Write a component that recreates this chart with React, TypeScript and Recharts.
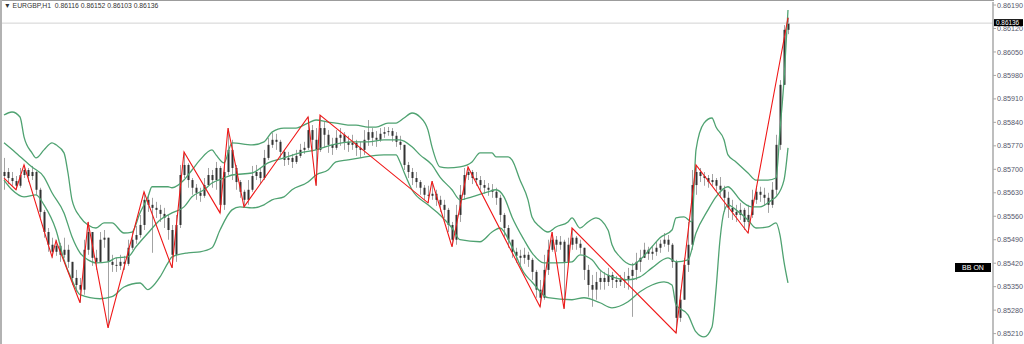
import { Bar, ComposedChart, Line, ReferenceLine, XAxis, YAxis } from "recharts";

// prices kept as points above 0.85000 (1 point = 0.00001)
const toPrice = (p: number) => 0.85 + p / 100000;

const symbol = "EURGBP,H1";
const firstOpen = 680;

const closes = [
	692, 674, 665, 651, 683, 698, 680, 692, 639, 573, 513, 475, 454, 472, 445, 460, 424, 376, 355, 341,
	460, 513, 436, 424, 490, 496, 424, 415, 412, 424, 418, 466, 490, 504, 534, 609, 594, 585, 579, 567,
	555, 519, 445, 534, 683, 713, 668, 645, 630, 621, 653, 683, 668, 704, 594, 692, 758, 704, 662, 633,
	609, 639, 680, 692, 674, 734, 773, 788, 782, 752, 728, 734, 722, 740, 758, 764, 817, 788, 758, 823,
	803, 773, 764, 794, 803, 782, 773, 779, 764, 758, 788, 811, 794, 788, 806, 811, 814, 800, 782, 773,
	713, 692, 674, 662, 645, 624, 621, 627, 609, 594, 579, 534, 490, 564, 624, 683, 692, 674, 668, 653,
	645, 639, 633, 615, 564, 525, 490, 454, 442, 436, 445, 430, 394, 341, 317, 400, 460, 490, 475, 484,
	424, 475, 496, 478, 466, 400, 355, 341, 364, 376, 364, 385, 370, 364, 370, 370, 382, 400, 424, 436,
	460, 448, 454, 466, 478, 490, 475, 424, 257, 311, 415, 475, 653, 692, 680, 674, 662, 668, 651, 639,
	615, 585, 573, 564, 579, 543, 564, 609, 633, 624, 615, 594, 639, 773, 952, 1116, 1136,
];

const highs = [
	734, 704, 692, 680, 704, 713, 704, 710, 695, 645, 579, 525, 496, 490, 481, 496, 475, 424, 400, 376,
	490, 543, 513, 460, 513, 519, 496, 445, 436, 445, 442, 490, 513, 531, 564, 633, 624, 615, 603, 594,
	585, 564, 534, 564, 713, 752, 718, 674, 656, 645, 674, 704, 698, 722, 710, 713, 823, 788, 713, 668,
	639, 668, 710, 713, 704, 758, 794, 809, 806, 788, 758, 752, 746, 758, 776, 782, 856, 832, 823, 862,
	841, 817, 794, 817, 823, 811, 800, 803, 788, 782, 817, 847, 823, 814, 823, 826, 826, 823, 811, 800,
	773, 722, 704, 692, 668, 653, 651, 665, 639, 621, 609, 585, 543, 594, 653, 704, 707, 698, 692, 680,
	668, 659, 656, 645, 624, 570, 534, 490, 466, 460, 466, 454, 436, 400, 370, 445, 490, 513, 501, 501,
	490, 496, 525, 501, 490, 466, 415, 385, 394, 400, 394, 406, 394, 382, 385, 394, 406, 421, 451, 460,
	481, 469, 472, 484, 490, 510, 504, 480, 430, 341, 436, 543, 698, 713, 704, 692, 683, 686, 674, 677,
	651, 633, 609, 594, 600, 585, 594, 639, 651, 648, 645, 630, 662, 803, 966, 1130, 1152,
];

const lows = [
	639, 656, 651, 639, 645, 674, 662, 668, 624, 555, 496, 454, 436, 442, 424, 436, 406, 355, 335, 302,
	326, 445, 412, 400, 424, 466, 227, 394, 394, 400, 400, 412, 460, 478, 496, 519, 573, 451, 555, 543,
	525, 490, 406, 424, 525, 674, 645, 624, 609, 603, 615, 653, 645, 639, 570, 579, 683, 668, 639, 615,
	588, 594, 633, 668, 656, 668, 728, 764, 758, 734, 710, 713, 704, 716, 734, 746, 758, 752, 651, 752,
	764, 749, 743, 758, 770, 758, 752, 758, 740, 734, 743, 770, 770, 767, 782, 794, 800, 782, 767, 758,
	698, 674, 653, 645, 624, 609, 600, 609, 591, 573, 555, 513, 469, 475, 543, 609, 668, 656, 651, 639,
	627, 621, 615, 594, 543, 499, 466, 436, 421, 415, 418, 409, 370, 317, 290, 311, 385, 454, 454, 460,
	284, 424, 460, 460, 448, 370, 320, 290, 311, 341, 341, 352, 346, 346, 352, 346, 341, 260, 370, 394,
	436, 430, 430, 442, 451, 469, 454, 406, 212, 245, 311, 394, 460, 624, 662, 651, 645, 651, 633, 615,
	573, 555, 549, 543, 549, 519, 510, 555, 597, 603, 591, 570, 585, 624, 758, 952, 1103,
];

// Bollinger bands: [bar index, points]
const bbUpper: [number, number][] = [
	[0, 862], [2, 871], [4, 856], [5, 797], [7, 749], [8, 734], [10, 758], [12, 779], [13, 773], [15, 749],
	[16, 689], [17, 609], [19, 558], [21, 534], [23, 525], [25, 540], [27, 540], [30, 510], [32, 513], [34, 570],
	[36, 618], [37, 648], [41, 648], [42, 645], [45, 668], [47, 698], [49, 728], [52, 758], [53, 743], [55, 719],
	[57, 779], [62, 773], [65, 782], [67, 811], [70, 823], [73, 823], [76, 838], [78, 847], [81, 841], [83, 838],
	[86, 832], [88, 832], [91, 826], [93, 826], [96, 838], [98, 838], [100, 853], [102, 868], [104, 856], [106, 817],
	[107, 767], [109, 707], [111, 704], [114, 707], [117, 722], [119, 749], [122, 749], [123, 737], [126, 737], [127, 728],
	[129, 668], [131, 609], [132, 558], [134, 528], [136, 513], [138, 528], [141, 543], [142, 555], [144, 525], [146, 543],
	[148, 555], [151, 519], [152, 475], [154, 439], [157, 415], [159, 430], [162, 469], [164, 496], [167, 519], [168, 555],
	[170, 558], [172, 543], [173, 758], [175, 838], [177, 853], [178, 826], [180, 788], [181, 743], [183, 722], [186, 689],
	[188, 668], [191, 668], [193, 674], [194, 817], [195, 966], [196, 1175],
];

const bbMiddle: [number, number][] = [
	[0, 779], [3, 749], [7, 707], [10, 677], [12, 630], [15, 570], [17, 499], [19, 451], [21, 430], [23, 421],
	[26, 424], [28, 436], [31, 439], [33, 469], [36, 510], [39, 549], [42, 570], [45, 588], [47, 618], [50, 639],
	[52, 659], [55, 674], [57, 683], [62, 689], [66, 719], [70, 734], [74, 749], [78, 758], [82, 773], [87, 782],
	[91, 782], [95, 788], [99, 788], [102, 767], [104, 743], [107, 713], [109, 677], [112, 639], [114, 609], [117, 618],
	[121, 633], [123, 639], [125, 618], [127, 558], [130, 490], [132, 451], [135, 421], [138, 421], [142, 424], [144, 445],
	[147, 430], [149, 400], [152, 379], [156, 370], [159, 379], [162, 406], [166, 436], [168, 424], [171, 430], [173, 510],
	[176, 579], [178, 618], [181, 648], [182, 639], [184, 609], [187, 588], [189, 588], [192, 609], [193, 618], [195, 668],
	[196, 764],
];

const bbLower: [number, number][] = [
	[0, 668], [2, 639], [5, 618], [8, 624], [10, 594], [13, 519], [15, 430], [17, 370], [19, 326], [24, 314],
	[27, 320], [30, 349], [34, 361], [36, 341], [37, 349], [39, 379], [41, 421], [42, 439], [46, 451], [49, 454],
	[52, 466], [54, 519], [57, 579], [59, 588], [62, 585], [65, 594], [67, 609], [70, 618], [72, 639], [76, 662],
	[78, 683], [81, 698], [83, 722], [86, 728], [89, 734], [92, 740], [95, 743], [98, 743], [99, 722], [100, 692],
	[102, 639], [106, 594], [109, 564], [112, 525], [114, 490], [119, 484], [122, 513], [124, 525], [127, 469], [130, 391],
	[132, 364], [136, 317], [142, 311], [145, 317], [149, 302], [152, 287], [156, 305], [159, 335], [162, 355], [165, 364],
	[167, 355], [168, 296], [171, 266], [173, 215], [175, 200], [177, 230], [178, 341], [179, 490], [180, 573], [181, 594],
	[183, 579], [186, 549], [188, 525], [191, 528], [193, 540], [194, 504], [195, 424], [196, 361],
];

// zigzag pivots: [bar index, points]
const zigzag: [number, number][] = [
	[0, 674], [3, 639], [5, 713], [12, 439], [13, 487], [19, 302], [21, 543], [26, 227], [35, 633], [42, 406],
	[45, 752], [54, 570], [56, 823], [60, 588], [76, 856], [78, 651], [79, 862], [106, 600], [107, 665], [112, 469],
	[116, 707], [134, 290], [137, 513], [140, 284], [142, 525], [168, 212], [173, 713], [186, 510], [196, 1152],
];

const priceTicks = [
	0.8521, 0.8528, 0.8535, 0.8542, 0.8549, 0.8556, 0.8563, 0.857, 0.8577, 0.8584, 0.8591, 0.8598, 0.8605,
	0.8612, 0.8619,
];

const rows: any[] = closes.map((c, i) => {
	const open = i === 0 ? firstOpen : closes[i - 1];
	return {
		i,
		open: toPrice(open),
		high: toPrice(highs[i]),
		low: toPrice(lows[i]),
		close: toPrice(c),
		range: [toPrice(lows[i]), toPrice(highs[i])],
	};
});
bbUpper.forEach(([i, v]) => (rows[i].upper = toPrice(v)));
bbMiddle.forEach(([i, v]) => (rows[i].middle = toPrice(v)));
bbLower.forEach(([i, v]) => (rows[i].lower = toPrice(v)));
zigzag.forEach(([i, v]) => (rows[i].zz = toPrice(v)));

const last = rows[rows.length - 1];
const green = "#4fa271";
const axisFont = "'Liberation Sans', Arial, sans-serif";

const OhlcBar = (props: any) => {
	const { x, y, width, height, payload } = props;
	if (x == null || y == null) return null;
	const top = Math.min(y, y + height);
	const h = Math.abs(height);
	const cx = Math.round(x + width / 2) + 0.5;
	const span = payload.high - payload.low || 1e-9;
	const yOf = (p: number) => top + ((payload.high - p) / span) * h;
	const yo = yOf(payload.open);
	const yc = yOf(payload.close);
	return (
		<g>
			<line x1={cx} x2={cx} y1={top} y2={top + h} stroke="#a3a3a3" strokeWidth={1} />
			<rect x={cx - 1} y={Math.min(yo, yc)} width={2} height={Math.max(Math.abs(yc - yo), 1)} fill="#333" />
		</g>
	);
};

const PriceTag = (props: any) => {
	const vb = props.viewBox || {};
	const x = vb.x + vb.width + 1;
	const y = vb.y;
	return (
		<g>
			<rect x={x} y={y - 4} width={29} height={7} fill="#000" />
			<text x={x + 2} y={y + 1.8} fill="#fff" fontSize={6.4} fontFamily={axisFont}>
				{last.close.toFixed(5)}
			</text>
		</g>
	);
};

export default function App() {
	return (
		<div style={{ position: "absolute", left: 0, top: 0, width: 1024, height: 344, background: "#fff", overflow: "hidden" }}>
			<ComposedChart width={1024} height={344} data={rows} margin={{ top: 2, right: 0, bottom: 0, left: 2 }}>
				<XAxis dataKey="i" type="number" domain={[-0.5, 247.25]} hide />
				<YAxis
					orientation="right"
					width={31}
					domain={[toPrice(179), toPrice(1199)]}
					allowDataOverflow
					ticks={priceTicks}
					interval={0}
					tickFormatter={(v: number) => v.toFixed(5)}
					tick={{ fontSize: 7.2, fill: "#55576b", fontFamily: axisFont }}
					tickSize={3}
					tickMargin={1}
					axisLine={{ stroke: "#a9a9a9", strokeWidth: 1.5 }}
					tickLine={{ stroke: "#a9a9a9" }}
				/>
				<ReferenceLine y={last.close} stroke="#d2d2d2" strokeWidth={1} label={PriceTag} />
				<Bar dataKey="range" shape={OhlcBar} isAnimationActive={false} />
				<Line dataKey="upper" type="monotone" stroke={green} strokeWidth={1.3} dot={false} connectNulls isAnimationActive={false} />
				<Line dataKey="middle" type="monotone" stroke={green} strokeWidth={1.3} dot={false} connectNulls isAnimationActive={false} />
				<Line dataKey="lower" type="monotone" stroke={green} strokeWidth={1.3} dot={false} connectNulls isAnimationActive={false} />
				<Line dataKey="zz" type="linear" stroke="#f01818" strokeWidth={1.1} dot={false} connectNulls isAnimationActive={false} />
			</ComposedChart>
			<div style={{ position: "absolute", left: 0, top: 0, width: 994, height: 1, background: "#9c9c9c" }} />
			<div style={{ position: "absolute", left: 0, top: 0, width: 2, height: 344, background: "#b2b2b2" }} />
			<div
				style={{
					position: "absolute",
					left: 4,
					top: 2,
					fontSize: 6.8,
					lineHeight: "8px",
					fontFamily: axisFont,
					color: "#333",
					whiteSpace: "pre",
				}}
			>
				{"▼ " + symbol + "  " + [last.open, last.high, last.low, last.close].map((v: number) => v.toFixed(5)).join(" ")}
			</div>
			<div
				style={{
					position: "absolute",
					left: 955,
					top: 263,
					width: 36,
					height: 9,
					background: "#000",
					color: "#fff",
					fontSize: 7,
					lineHeight: "9px",
					textAlign: "center",
					fontFamily: axisFont,
				}}
			>
				BB ON
			</div>
		</div>
	);
}
